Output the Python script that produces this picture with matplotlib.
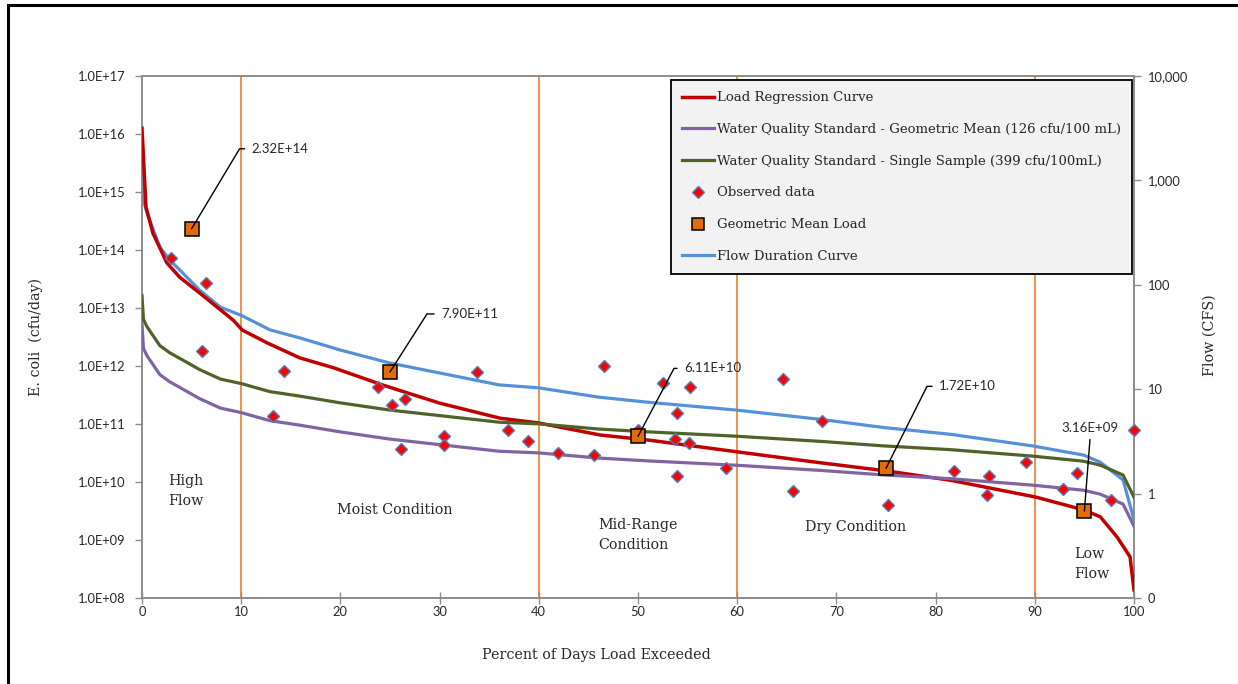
import math
import numpy as np
import matplotlib
matplotlib.use("Agg")
import matplotlib.pyplot as plt
from matplotlib.lines import Line2D
from matplotlib.patches import Rectangle
from matplotlib.ticker import FixedLocator, FuncFormatter, NullLocator

# Flow duration curve (cfs) vs percent of days exceeded
flow_pct = [0, 0.15, 0.5, 1.8, 2.8, 4.1, 5.8, 7.9, 10, 12.9, 15.9, 20, 25, 30, 36, 40,
            46, 51, 60, 68.7, 74.7, 81.5, 89.8, 94.9, 96.6, 98.9, 100]
flow_cfs = [1675, 650, 488, 230, 173, 130, 89, 61, 51, 37, 31, 23.7, 17.8, 14.3, 11.0, 10.3,
            8.4, 7.5, 6.3, 5.1, 4.3, 3.7, 2.86, 2.34, 2.0, 1.35, 0.56]

# Load regression curve, log10 of cfu/day
reg_pct = [0, 0.4, 1.1, 2.5, 3.8, 5.8, 9.2, 10.1, 12.6, 15.9, 19.3, 24.3, 30, 36.1, 39.9,
           46.2, 51.2, 60, 68, 75.1, 81.5, 90.1, 94.9, 96.6, 98.3, 99.6, 100]
reg_log = [16.10, 14.74, 14.29, 13.78, 13.53, 13.26, 12.79, 12.62, 12.40, 12.14, 11.97, 11.67,
           11.36, 11.10, 11.02, 10.81, 10.72, 10.52, 10.34, 10.19, 10.03, 9.74, 9.52, 9.40,
           9.05, 8.71, 8.14]

# Observed E. coli loads
obs_pct = [2.9, 6.5, 6.0, 14.3, 13.2, 23.8, 25.2, 26.5, 26.1, 30.4, 30.4, 33.8, 36.9, 38.9,
           41.9, 45.6, 46.6, 50.0, 52.5, 55.2, 53.9, 53.7, 55.1, 53.9, 58.9, 64.6, 65.6, 68.5,
           75.2, 81.9, 85.4, 85.2, 89.1, 92.8, 94.3, 97.7, 100]
obs_load = [7.3e13, 2.7e13, 1.8e12, 8.2e11, 1.4e11, 4.3e11, 2.1e11, 2.7e11, 3.7e10, 6.2e10,
            4.3e10, 7.9e11, 7.9e10, 5.1e10, 3.2e10, 2.9e10, 1.0e12, 7.9e10, 5.1e11, 4.4e11,
            1.55e11, 5.5e10, 4.7e10, 1.27e10, 1.74e10, 6.0e11, 7.0e9, 1.13e11, 4.0e9, 1.55e10,
            1.27e10, 6.0e9, 2.2e10, 7.6e9, 1.43e10, 4.9e9, 7.9e10]

# Geometric mean load per flow regime
gm_pct = [5, 25, 50, 75, 95]
gm_load = [2.32e14, 7.90e11, 6.11e10, 1.72e10, 3.16e9]
gm_text = ["2.32E+14", "7.90E+11", "6.11E+10", "1.72E+10", "3.16E+09"]

# water quality criteria, cfu/100 mL
GM_CRITERION = 126
SS_CRITERION = 399
CFS_TO_100ML_DAY = 28316.85 * 86400 / 100

regime_bounds = [10, 40, 60, 90]

flow = np.array(flow_cfs)
gm_std = flow * GM_CRITERION * CFS_TO_100ML_DAY
ss_std = flow * SS_CRITERION * CFS_TO_100ML_DAY
reg_load = 10 ** np.array(reg_log)

SERIF = "DejaVu Serif"
NUMS = "Lato"
GREY = "#8c8c8c"
INK = "#262626"

W, H = 1238, 684
fig = plt.figure(figsize=(W / 100, H / 100), dpi=100)
ax = fig.add_axes([142 / W, 1 - 598 / H, 992 / W, 522 / H])
ax2 = ax.twinx()

# flow axis sits underneath the load axis
ax.set_zorder(ax2.get_zorder() + 1)
ax.patch.set_visible(False)

for b in regime_bounds:
    ax2.axvline(b, color="#f0883a", lw=1.3, zorder=1)
ax2.plot(flow_pct, flow_cfs, color="#5591d8", lw=2.3, zorder=3, solid_joinstyle="round")

ax.plot(reg_pct, reg_load, color="#c00000", lw=2.5, zorder=3, solid_joinstyle="round")
ax.plot(flow_pct, gm_std, color="#8064a2", lw=2.3, zorder=3)
ax.plot(flow_pct, ss_std, color="#4f6228", lw=2.3, zorder=3)
ax.plot(obs_pct, obs_load, ls="none", marker="D", ms=6.5, mfc="#ff0000", mec="#4f81bd",
        mew=1.0, zorder=5, clip_on=False)
ax.plot(gm_pct, gm_load, ls="none", marker="s", ms=10.5, mfc="#e36c09", mec="black",
        mew=1.1, zorder=6)

# leader-line labels: (text offset, kink offset) in pixels from the square
label_offsets = [((60, 80), (48, 80)), ((51, 58), (37, 58)), ((46, 68), (36, 68)),
                 ((53, 82), (41, 82))]
for i, ((tx, ty), (kx, ky)) in enumerate(label_offsets):
    ang = math.degrees(math.atan2(ky, kx))
    ax.annotate(gm_text[i], xy=(gm_pct[i], gm_load[i]), xytext=(tx, ty),
                textcoords="offset pixels", ha="left", va="center",
                fontsize=9.5, family=NUMS, color=INK, zorder=7,
                arrowprops=dict(arrowstyle="-", color="black", lw=1.0, shrinkA=3, shrinkB=0,
                                relpos=(0, 0.5),
                                connectionstyle=f"angle,angleA=0,angleB={ang},rad=0"))
ax.annotate(gm_text[4], xy=(gm_pct[4], gm_load[4]), xytext=(6, 77),
            textcoords="offset pixels", ha="center", va="bottom",
            fontsize=9.5, family=NUMS, color=INK, zorder=7,
            arrowprops=dict(arrowstyle="-", color="black", lw=1.0, shrinkA=2, shrinkB=0,
                            relpos=(0.5, 0)))

# regime names
regime_labels = [(2.6, 7.0e9, "High\nFlow", "left"), (25.5, 3.3e9, "Moist Condition", "center"),
                 (46.0, 1.2e9, "Mid-Range\nCondition", "left"),
                 (71.9, 1.67e9, "Dry Condition", "center"), (94.0, 3.8e8, "Low\nFlow", "left")]
for x, y, s, ha in regime_labels:
    ax.text(x, y, s, ha=ha, va="center", fontsize=10.3, family=SERIF, color=INK,
            linespacing=1.55, zorder=4)

# axes, ticks, spines
ax.set_xlim(0, 100)
ax.set_yscale("log")
ax.set_ylim(1e8, 1e17)
ax2.set_yscale("log")
ax2.set_ylim(0.1, 10000)
ax.set_xticks(range(0, 101, 10))
ax.yaxis.set_major_locator(FixedLocator([10.0 ** k for k in range(8, 18)]))
ax.yaxis.set_minor_locator(NullLocator())
ax.yaxis.set_major_formatter(FuncFormatter(lambda v, p: f"{v:.1E}"))
ax2.yaxis.set_major_locator(FixedLocator([0.1, 1, 10, 100, 1000, 10000]))
ax2.yaxis.set_minor_locator(NullLocator())
ax2.yaxis.set_major_formatter(FuncFormatter(lambda v, p: f"{v:,.0f}"))

for a in (ax, ax2):
    for sp in a.spines.values():
        sp.set_color(GREY)
        sp.set_linewidth(1.2)
ax.tick_params(axis="y", direction="out", length=5, width=1, color=GREY, pad=7,
               labelsize=9.3, labelcolor=INK)
ax.tick_params(axis="x", direction="inout", length=8, width=1, color=GREY, pad=2,
               labelsize=9.3, labelcolor=INK)
ax2.tick_params(axis="y", direction="out", length=5, width=1, color=GREY, pad=5,
                labelsize=9.3, labelcolor=INK)
for lab in ax.get_xticklabels() + ax.get_yticklabels() + ax2.get_yticklabels():
    lab.set_family(NUMS)

fig.text(36 / W, 1 - 337 / H, "E. coli  (cfu/day)", rotation=90, ha="center", va="center",
         fontsize=10.3, family=SERIF, color=INK)
fig.text(1210 / W, 1 - 335 / H, "Flow (CFS)", rotation=90, ha="center", va="center",
         fontsize=10.3, family=SERIF, color=INK)
fig.text(596 / W, 1 - 655 / H, "Percent of Days Load Exceeded", ha="center", va="center",
         fontsize=10.3, family=SERIF, color=INK)

handles = [
    Line2D([], [], color="#c00000", lw=2.5),
    Line2D([], [], color="#8064a2", lw=2.3),
    Line2D([], [], color="#4f6228", lw=2.3),
    Line2D([], [], ls="none", marker="D", ms=6.5, mfc="#ff0000", mec="#4f81bd", mew=1.0),
    Line2D([], [], ls="none", marker="s", ms=8.5, mfc="#e36c09", mec="black", mew=1.1),
    Line2D([], [], color="#5591d8", lw=2.3),
]
labels = ["Load Regression Curve",
          "Water Quality Standard - Geometric Mean (126 cfu/100 mL)",
          "Water Quality Standard - Single Sample (399 cfu/100mL)",
          "Observed data", "Geometric Mean Load", "Flow Duration Curve"]
leg = ax.legend(handles, labels, loc="upper right", bbox_to_anchor=(1132 / W, 1 - 80 / H),
                bbox_transform=fig.transFigure, prop={"family": SERIF, "size": 9.5},
                frameon=True, fancybox=False, edgecolor="black", facecolor="#f2f2f2",
                framealpha=1, handlelength=2.4, handletextpad=0.2, labelspacing=1.42,
                borderpad=0.85, borderaxespad=0)
leg.get_frame().set_linewidth(1.3)
leg.set_zorder(10)
for t in leg.get_texts():
    t.set_color(INK)

# outer frame around the chart
fig.add_artist(Rectangle((8 / W, -0.1), 2, 1 - 5 / H + 0.1, transform=fig.transFigure,
                         fill=False, ec="black", lw=2.2))

fig.savefig("out.png", dpi=100)
